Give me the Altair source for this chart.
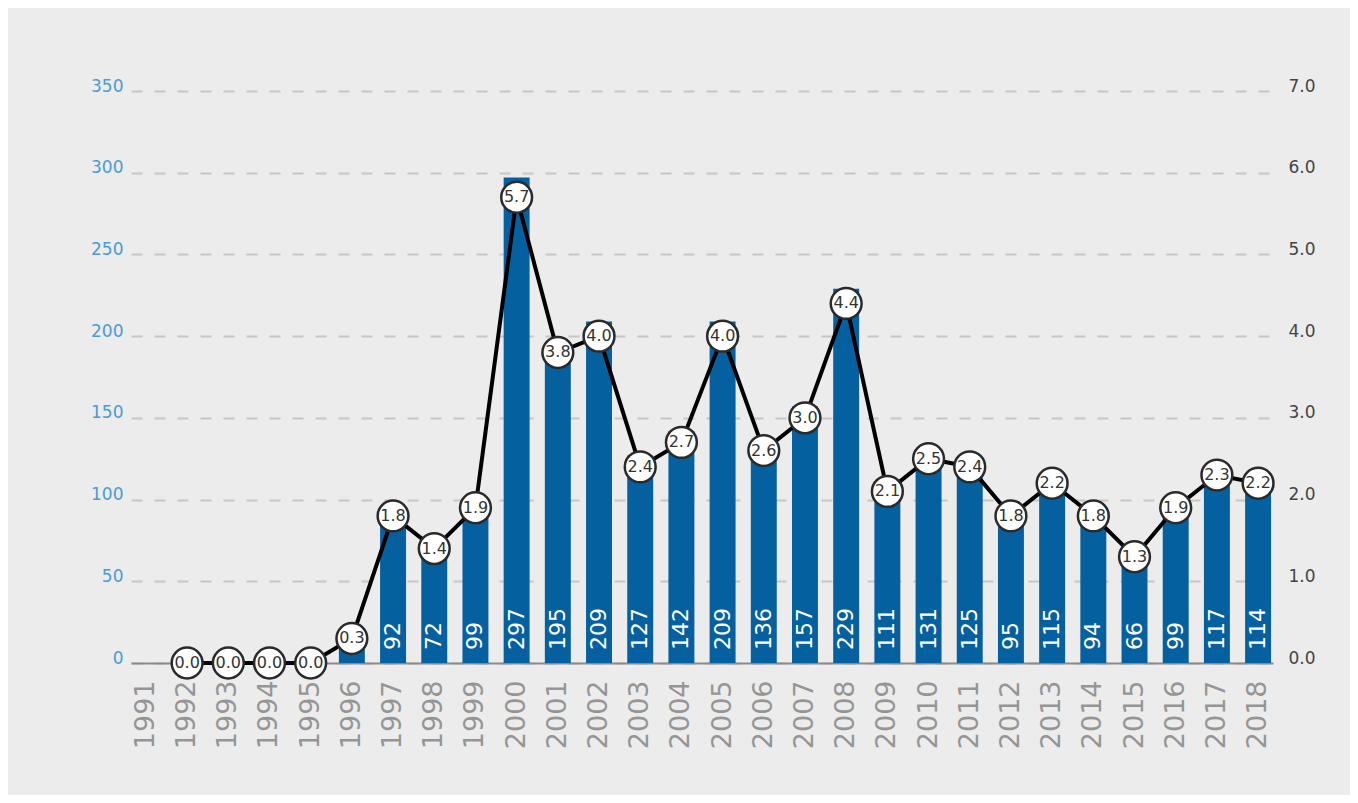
import altair as alt
import pandas as pd

years = [str(y) for y in range(1991, 2019)]

bar_years = [str(y) for y in range(1996, 2019)]
bar_values = [15, 92, 72, 99, 297, 195, 209, 127, 142, 209, 136, 157, 229,
              111, 131, 125, 95, 115, 94, 66, 99, 117, 114]

rate_years = [str(y) for y in range(1992, 2019)]
rate_values = [0.0, 0.0, 0.0, 0.0, 0.3, 1.8, 1.4, 1.9, 5.7, 3.8, 4.0, 2.4, 2.7,
               4.0, 2.6, 3.0, 4.4, 2.1, 2.5, 2.4, 1.8, 2.2, 1.8, 1.3, 1.9, 2.3, 2.2]

left_ticks = [0, 50, 100, 150, 200, 250, 300, 350]
right_ticks = [0, 1, 2, 3, 4, 5, 6, 7]

bar_df = pd.DataFrame({"year": bar_years, "bars": bar_values, "base": 0})
rate_df = pd.DataFrame({"year": rate_years, "rate": rate_values})

FONT = "DejaVu Sans"

x_enc = alt.X(
    "year:N",
    scale=alt.Scale(domain=years, paddingInner=0.37, paddingOuter=0.047),
    sort=years,
    axis=alt.Axis(
        title=None, labelAngle=-90, labelFontSize=27, labelColor="#959595",
        labelFont=FONT, domainColor="#8a8a8a", domainWidth=2, ticks=False,
        labelPadding=17, grid=False,
    ),
)

left_scale = alt.Scale(domain=[0, 350], nice=False, zero=True)
right_scale = alt.Scale(domain=[0, 7], nice=False, zero=True)

bars = alt.Chart(bar_df).mark_bar(color="#04609f").encode(
    x=x_enc,
    y=alt.Y(
        "bars:Q", scale=left_scale,
        axis=alt.Axis(
            title=None, values=left_ticks, grid=True, gridDash=[11, 12],
            gridColor="#c6c6c6", gridWidth=2, domain=False, ticks=False,
            labelColor="#4a9bd4", labelFontSize=17, labelFont=FONT,
            labelPadding=8, labelOffset=-5,
        ),
    ),
)

bar_labels = alt.Chart(bar_df).transform_filter(
    alt.datum.bars >= 50
).mark_text(
    angle=270, align="left", baseline="middle", dx=13, color="white",
    fontSize=22, font=FONT,
).encode(
    x=x_enc,
    y=alt.Y("base:Q", scale=left_scale, axis=None),
    text=alt.Text("bars:Q"),
)

line = alt.Chart(rate_df).mark_line(color="black", strokeWidth=4).encode(
    x=x_enc,
    y=alt.Y(
        "rate:Q", scale=right_scale,
        axis=alt.Axis(
            title=None, orient="right", values=right_ticks, format=".1f",
            grid=False, domain=False, ticks=False, labelColor="#444444",
            labelFontSize=17, labelFont=FONT, labelPadding=15, labelOffset=-5,
        ),
    ),
)

points = alt.Chart(rate_df).mark_point(
    shape="circle", size=950, filled=False, fill="white", fillOpacity=1,
    stroke="#2a2a2a", strokeWidth=2.5, opacity=1,
).encode(
    x=x_enc,
    y=alt.Y("rate:Q", scale=right_scale, axis=None),
)

point_labels = alt.Chart(rate_df).mark_text(
    align="center", baseline="middle", color="#333333", fontSize=16, font=FONT,
).encode(
    x=x_enc,
    y=alt.Y("rate:Q", scale=right_scale, axis=None),
    text=alt.Text("rate:Q", format=".1f"),
)

chart = alt.layer(bars, bar_labels, line, points, point_labels).resolve_scale(
    y="independent"
).properties(
    width=1142,
    height=572,
    padding={"left": 123, "top": 83, "right": 77, "bottom": 132},
    autosize=alt.AutoSizeParams(type="none"),
    background="#ececec",
).configure_view(stroke=None)

chart.save("out.html", embed_options={"renderer": "svg", "actions": False})
